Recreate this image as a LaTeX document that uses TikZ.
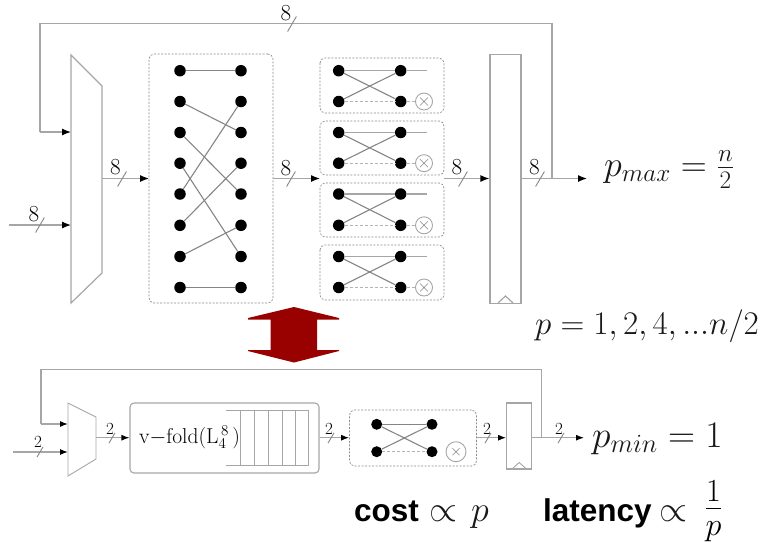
\documentclass[tikz,border=0pt]{standalone}
\usepackage{fix-cm}
\usepackage{fontspec}
\newfontfamily\labelsans{Liberation Sans}
\usetikzlibrary{arrows.meta}
\definecolor{wire}{HTML}{A6A6A6}
\definecolor{wiredark}{HTML}{858585}
\definecolor{ghostgray}{HTML}{B4B4B4}
\definecolor{boxdash}{HTML}{8C8C8C}
\definecolor{darkred}{HTML}{990000}
\tikzset{
  x=1pt,y=-1pt,
  wireline/.style={draw=wire,line width=1.2pt},
  thinwire/.style={draw=wire,line width=0.9pt},
  sig/.style={wireline,-{Latex[black,length=9pt,width=7pt]}},
  sigsm/.style={wireline,-{Latex[black,length=8pt,width=6pt]}},
  tickline/.style={draw=wiredark,line width=0.9pt},
  dotnode/.style={circle,fill=black,draw=none,minimum size=11.5pt,inner sep=0pt},
  dotsmall/.style={circle,fill=black,draw=none,minimum size=11pt,inner sep=0pt},
  link/.style={draw=wiredark,line width=1.1pt},
  ghost/.style={draw=ghostgray,line width=1pt,densely dashed},
  dashbox/.style={draw=boxdash,line width=0.7pt,dash pattern=on 2pt off 1.5pt,rounded corners=5pt},
  otimesnode/.style={circle,draw=wire,line width=0.9pt,inner sep=0pt},
  num/.style={inner sep=0pt,text=black,font=\fontsize{23}{23}\selectfont},
  numsm/.style={inner sep=0pt,text=black,font=\fontsize{17}{17}\selectfont},
  mathlab/.style={inner sep=0pt,anchor=base west,text=black!90,font=\fontsize{36}{36}\selectfont},
  mathmin/.style={inner sep=0pt,anchor=base west,text=black!90,font=\fontsize{37.5}{37.5}\selectfont},
  mathrange/.style={inner sep=0pt,anchor=base west,text=black!90,font=\fontsize{33}{33}\selectfont},
  boldlab/.style={inner sep=0pt,anchor=base west,font=\labelsans\bfseries\fontsize{31.5}{31.5}\selectfont},
}
\newcommand{\slashmark}[3]{\draw[tickline] (#1+#3,#2-#3*1.7) -- (#1-#3,#2+#3*1.7);}
\begin{document}
\begin{tikzpicture}
\useasboundingbox (0,0) rectangle (761,542);
% ---------- top row ----------
\draw[wireline] (71,55) -- (102,86) -- (102,273) -- (71,303) -- cycle;
\coordinate (muxAin1) at (71,132);
\coordinate (muxAin2) at (71,225);
\coordinate (muxAout) at (102,178.5);
\coordinate (srcA) at (9,225);
\node[draw=wire,line width=1.2pt,minimum width=31pt,minimum height=249pt,inner sep=0pt] (regA) at (505.5,179) {};
\draw[wireline] (498,303) -- (505.5,296) -- (513,303);
\node[dashbox,minimum width=124pt,minimum height=249pt,inner sep=0pt] (shufA) at (211,178.5) {};
\foreach \i/\y in {1/70.7,2/101.5,3/132.5,4/163.2,5/194,6/225.3,7/256.5,8/287.5}{
  \node[dotnode] (L\i) at (180,\y) {};
  \node[dotnode] (R\i) at (241,\y) {};
}
\foreach \a/\b in {1/1,2/3,3/5,4/7,5/2,6/4,7/6,8/8}{\draw[link] (L\a) -- (R\b);}
\foreach \k/\ya/\yb/\ytop/\ybot in {1/70.7/101.5/58/113,2/132.5/163.2/121/175,3/194/225.3/183/237,4/256.5/287.5/245/300}{
  \path[dashbox,draw] (320,\ytop) rectangle (444,\ybot);
  \node[dotnode] (bl\k) at (338.7,\ya) {};
  \node[dotnode] (bm\k) at (338.7,\yb) {};
  \node[dotnode] (br\k) at (400.7,\ya) {};
  \node[dotnode] (bn\k) at (400.7,\yb) {};
  \coordinate (be\k) at (427,\ya);
  \node[otimesnode,minimum size=17pt] (ox\k) at (424,\yb) {};
  \draw[draw=wiredark,line width=0.6pt] (420,\yb-4) -- (428,\yb+4) (428,\yb-4) -- (420,\yb+4);
  \draw[wireline] (bl\k) -- (br\k) -- (be\k);
  \draw[link] (bl\k) -- (bn\k);
  \draw[link] (bm\k) -- (br\k);
  \draw[ghost] (bm\k) -- (bn\k) -- (ox\k);
}
\coordinate (shufAin) at (149,178.5);
\coordinate (shufAout) at (273,178.5);
\coordinate (bfAin) at (320,178.5);
\coordinate (bfAout) at (444,178.5);
\coordinate (outA) at (587,178.5);
\coordinate (fbA) at (552,178.5);
\coordinate (fbA1) at (552,23.5);
\coordinate (fbA2) at (40,23.5);
\coordinate (fbA3) at (40,132);
\draw[sig] (srcA) -- (muxAin2);
\draw[sig] (muxAout) -- (shufAin);
\draw[sig] (shufAout) -- (bfAin);
\draw[sig] (bfAout) -- (regA.west |- bfAout);
\draw[sig] (regA.east |- outA) -- (outA);
\draw[wireline] (fbA) -- (fbA1) -- (fbA2) -- (fbA3);
\draw[sig] (fbA3) -- (muxAin1);
\slashmark{292}{24}{4.4}
\slashmark{40}{225}{4.4}
\slashmark{122}{179}{4.4}
\slashmark{291}{179}{4.4}
\slashmark{463}{179}{4.4}
\slashmark{540}{179}{4.4}
\node[num] (n1) at (286,13) {8};
\node[num] (n2) at (34,214) {8};
\node[num] (n3) at (115.5,167.5) {8};
\node[num] (n4) at (286,168) {8};
\node[num] (n5) at (457,167.5) {8};
\node[num] (n6) at (534.5,167.5) {8};
\node[mathlab] (pmax) at (604,176) {$p_{max}=\frac{n}{2}$};
\node[mathrange] (prange) at (535,334) {$p=1,2,4,...n/2$};
% ---------- red arrow ----------
\fill[darkred] (294,307) -- (339,318) -- (339,319.5) -- (317,319.5) -- (317,350) -- (339,350) -- (339,351) -- (294,362.5) -- (248,351) -- (248,350) -- (270.7,350) -- (270.7,319.5) -- (248,319.5) -- (248,318) -- cycle;
% ---------- bottom row ----------
\draw[thinwire] (68,403) -- (96,417) -- (96,459) -- (68,476) -- cycle;
\coordinate (muxBin1) at (68,424);
\coordinate (muxBin2) at (68,452);
\coordinate (muxBout) at (96,437.7);
\coordinate (srcB) at (13,452);
\node[draw=wire,line width=1.1pt,rounded corners=4pt,minimum width=189pt,minimum height=70pt,inner sep=0pt] (fold) at (224.5,438) {};
\draw[thinwire] (226,410) -- (308.7,410) -- (308.7,465) -- (226,465);
\foreach \x in {240,254,268,282,295}{\draw[thinwire] (\x,410) -- (\x,465);}
\node[inner sep=0pt,anchor=base west,text=black,font=\fontsize{21.5}{21.5}\selectfont] (foldlab) at (139,443) {v$-$fold(L$_4^{\,8}\,$)};
\node[dashbox,minimum width=127pt,minimum height=56pt,inner sep=0pt] (bfB) at (413,438) {};
\node[dotsmall] (bl) at (376.7,424.3) {};
\node[dotsmall] (bm) at (376.7,451.7) {};
\node[dotsmall] (br) at (432,424.3) {};
\node[dotsmall] (bn) at (432,451.7) {};
\node[otimesnode,minimum size=20pt] (oxB) at (456,451.7) {};
\draw[draw=wiredark,line width=0.6pt] (452.5,448.2) -- (459.5,455.2) (459.5,448.2) -- (452.5,455.2);
\draw[link] (bl) -- (br);
\draw[link] (bl) -- (bn);
\draw[link] (bm) -- (br);
\draw[ghost] (bm) -- (bn);
\node[draw=wire,line width=1.1pt,minimum width=25pt,minimum height=66pt,inner sep=0pt] (regB) at (519.2,436) {};
\draw[thinwire] (512,469) -- (519.2,462.5) -- (526.4,469);
\coordinate (outB) at (584,437.7);
\coordinate (fbB) at (541.5,437.7);
\coordinate (fbB1) at (541.5,369.3);
\coordinate (fbB2) at (41,369.3);
\coordinate (fbB3) at (41,424);
\draw[sigsm] (srcB) -- (muxBin2);
\draw[sigsm] (muxBout) -- (fold.west |- muxBout);
\draw[sigsm] (fold.east |- muxBout) -- (bfB.west |- muxBout);
\draw[sigsm] (bfB.east |- muxBout) -- (regB.west |- muxBout);
\draw[sigsm] (regB.east |- outB) -- (outB);
\draw[wireline] (fbB) -- (fbB1) -- (fbB2) -- (fbB3);
\draw[sigsm] (fbB3) -- (muxBin1);
\slashmark{40}{452}{3}
\slashmark{112}{438}{3}
\slashmark{331}{438}{3}
\slashmark{488}{438}{3}
\slashmark{561}{438}{3}
\node[numsm] (m1) at (38,442) {2};
\node[numsm] (m2) at (110,429) {2};
\node[numsm] (m3) at (329,429) {2};
\node[numsm] (m4) at (487,429) {2};
\node[numsm] (m5) at (559,429) {2};
\node[mathmin] (pmin) at (592,447) {$p_{min}=1$};
\node[boldlab] (cost) at (354,521) {cost};
\node[mathlab] (costp) at (429,521) {$\propto$};
\node[mathlab] (costq) at (471,521) {$p$};
\node[boldlab] (lat) at (543,521) {latency};
\node[mathlab] (latp) at (659,521) {$\propto$};
\node[inner sep=0pt,font=\fontsize{46}{46}\selectfont] (latq) at (713.5,511) {$\frac{1}{p}$};
\end{tikzpicture}
\end{document}
